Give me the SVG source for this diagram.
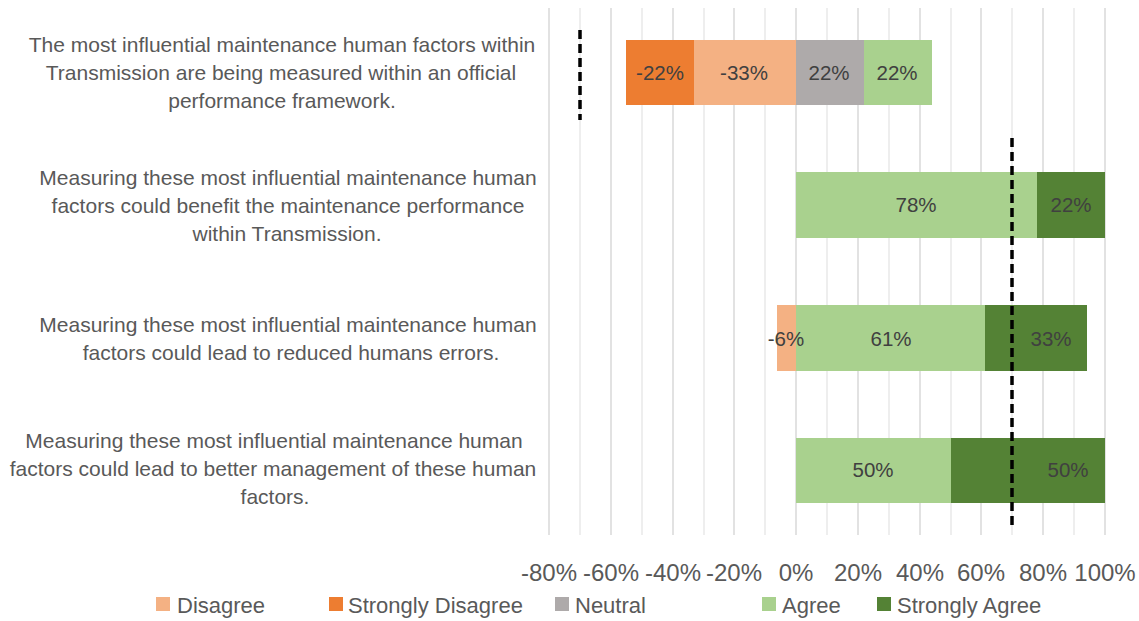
<svg xmlns="http://www.w3.org/2000/svg" width="1139" height="621" viewBox="0 0 1139 621">
<style>
.grid{stroke:#d9d9d9;stroke-width:1.5}
.gridm{stroke:#e8e8e8;stroke-width:1.5}
.cat{font-family:"Liberation Sans",Arial,sans-serif;font-size:21px;fill:#595959;text-anchor:middle}
.val{font-family:"Liberation Sans",Arial,sans-serif;font-size:20.5px;fill:#404040;text-anchor:middle}
.tick{font-family:"Liberation Sans",Arial,sans-serif;font-size:24px;fill:#595959;text-anchor:middle}
.leg{font-family:"Liberation Sans",Arial,sans-serif;font-size:22px;fill:#595959}
.sd{fill:#ED7D31}.d{fill:#F4B183}.n{fill:#AEAAAA}.a{fill:#A9D18E}.sa{fill:#548235}
.dash{stroke:#000;stroke-width:3.5;stroke-dasharray:9,5;fill:none}
</style>
<rect width="1139" height="621" fill="#fff"/>
<g id="gridlines">
<line class="grid" x1="549" y1="8" x2="549" y2="535"/>
<line class="gridm" x1="580" y1="8" x2="580" y2="535"/>
<line class="grid" x1="611" y1="8" x2="611" y2="535"/>
<line class="gridm" x1="642" y1="8" x2="642" y2="535"/>
<line class="grid" x1="673" y1="8" x2="673" y2="535"/>
<line class="gridm" x1="704" y1="8" x2="704" y2="535"/>
<line class="grid" x1="734" y1="8" x2="734" y2="535"/>
<line class="gridm" x1="765" y1="8" x2="765" y2="535"/>
<line class="grid" x1="796" y1="8" x2="796" y2="535"/>
<line class="gridm" x1="827" y1="8" x2="827" y2="535"/>
<line class="grid" x1="858" y1="8" x2="858" y2="535"/>
<line class="gridm" x1="889" y1="8" x2="889" y2="535"/>
<line class="grid" x1="920" y1="8" x2="920" y2="535"/>
<line class="gridm" x1="951" y1="8" x2="951" y2="535"/>
<line class="grid" x1="981" y1="8" x2="981" y2="535"/>
<line class="gridm" x1="1012" y1="8" x2="1012" y2="535"/>
<line class="grid" x1="1043" y1="8" x2="1043" y2="535"/>
<line class="gridm" x1="1074" y1="8" x2="1074" y2="535"/>
<line class="grid" x1="1105" y1="8" x2="1105" y2="535"/>
</g>
<g id="row1">
<text class="cat" x="282" y="52">The most influential maintenance human factors within</text>
<text class="cat" x="281" y="80">Transmission are being measured within an official</text>
<text class="cat" x="282" y="108">performance framework.</text>
<rect class="sd" x="626" y="40" width="68" height="65"/>
<rect class="d" x="694" y="40" width="102" height="65"/>
<rect class="n" x="796" y="40" width="68" height="65"/>
<rect class="a" x="864" y="40" width="68" height="65"/>
<text class="val" x="660" y="80">-22%</text>
<text class="val" x="744" y="80">-33%</text>
<text class="val" x="829" y="80">22%</text>
<text class="val" x="897" y="80">22%</text>
</g>
<g id="row2">
<text class="cat" x="288" y="185">Measuring these most influential maintenance human</text>
<text class="cat" x="288" y="213">factors could benefit the maintenance performance</text>
<text class="cat" x="287" y="241">within Transmission.</text>
<rect class="a" x="796" y="172" width="241" height="66"/>
<rect class="sa" x="1037" y="172" width="68" height="66"/>
<text class="val" x="916" y="212">78%</text>
<text class="val" x="1071" y="212">22%</text>
</g>
<g id="row3">
<text class="cat" x="288" y="332">Measuring these most influential maintenance human</text>
<text class="cat" x="291" y="360">factors could lead to reduced humans errors.</text>
<rect class="d" x="777" y="305" width="19" height="66"/>
<rect class="a" x="796" y="305" width="189" height="66"/>
<rect class="sa" x="985" y="305" width="102" height="66"/>
<text class="val" x="786" y="346">-6%</text>
<text class="val" x="891" y="346">61%</text>
<text class="val" x="1051" y="346">33%</text>
</g>
<g id="row4">
<text class="cat" x="274" y="448">Measuring these most influential maintenance human</text>
<text class="cat" x="273" y="476">factors could lead to better management of these human</text>
<text class="cat" x="275" y="504">factors.</text>
<rect class="a" x="796" y="438" width="155" height="65"/>
<rect class="sa" x="951" y="438" width="154" height="65"/>
<text class="val" x="873" y="477">50%</text>
<text class="val" x="1068" y="477">50%</text>
</g>
<g id="connectors">
<line class="dash" x1="580" y1="30" x2="580" y2="120"/>
<line class="dash" x1="1012" y1="138" x2="1012" y2="530"/>
</g>
<g id="axis">
<text class="tick" x="549" y="581">-80%</text>
<text class="tick" x="611" y="581">-60%</text>
<text class="tick" x="673" y="581">-40%</text>
<text class="tick" x="734" y="581">-20%</text>
<text class="tick" x="796" y="581">0%</text>
<text class="tick" x="858" y="581">20%</text>
<text class="tick" x="920" y="581">40%</text>
<text class="tick" x="981" y="581">60%</text>
<text class="tick" x="1043" y="581">80%</text>
<text class="tick" x="1105" y="581">100%</text>
</g>
<g id="legend">
<rect class="d" x="156" y="597" width="14" height="14"/>
<text class="leg" x="177" y="613">Disagree</text>
<rect class="sd" x="329" y="597" width="14" height="14"/>
<text class="leg" x="348" y="613">Strongly Disagree</text>
<rect class="n" x="555" y="597" width="14" height="14"/>
<text class="leg" x="575" y="613">Neutral</text>
<rect class="a" x="762" y="597" width="14" height="14"/>
<text class="leg" x="782" y="613">Agree</text>
<rect class="sa" x="877" y="597" width="14" height="14"/>
<text class="leg" x="897" y="613">Strongly Agree</text>
</g>
</svg>
